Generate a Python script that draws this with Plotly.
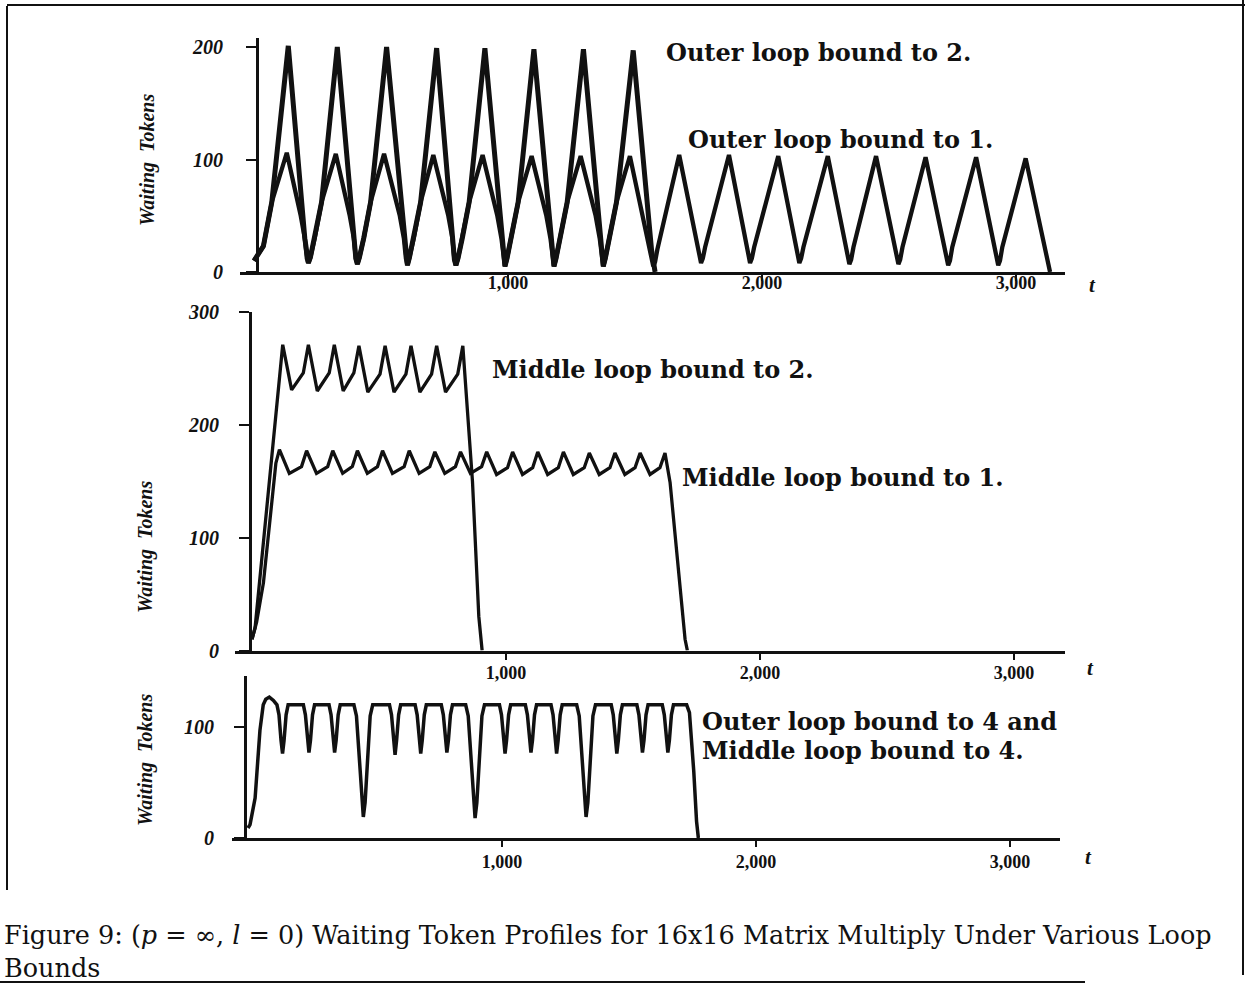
import plotly.graph_objects as go

# ---------------- data ----------------
# Top panel: Outer loop bound to 2
outer2_t = [0, 37, 70, 135,
            200, 208, 214, 222, 239, 266, 328,
            393, 401, 407, 415, 432, 459, 522,
            590, 598, 604, 612, 629, 656, 719,
            781, 789, 795, 803, 820, 847, 909,
            974, 982, 988, 996, 1013, 1040, 1102,
            1167, 1175, 1181, 1189, 1206, 1233, 1297,
            1361, 1369, 1375, 1383, 1400, 1427, 1493,
            1565, 1579]
outer2_w = [10, 23, 62, 201,
            30, 12, 8, 13, 30, 62, 200,
            30, 12, 7, 13, 30, 62, 200,
            30, 12, 6, 13, 30, 62, 199,
            30, 11, 6, 12, 30, 62, 199,
            30, 11, 5, 12, 30, 62, 198,
            30, 11, 5, 12, 30, 62, 198,
            30, 11, 5, 12, 30, 62, 197,
            20, 0]

# Top panel: Outer loop bound to 1
outer1_t = [0, 37, 70, 129,
            184, 200, 208, 214, 222, 239, 266, 322,
            377, 393, 401, 407, 415, 432, 459, 512,
            574, 590, 598, 604, 612, 629, 656, 706,
            765, 781, 789, 795, 803, 820, 847, 900,
            958, 974, 982, 988, 996, 1013, 1040, 1093,
            1151, 1167, 1175, 1181, 1189, 1206, 1233, 1286,
            1345, 1361, 1369, 1375, 1383, 1400, 1427, 1480,
            1558, 1565, 1572, 1579, 1588, 1674,
            1746, 1754, 1760, 1767, 1776, 1870,
            1939, 1947, 1953, 1960, 1969, 2064,
            2133, 2141, 2147, 2154, 2163, 2259,
            2330, 2338, 2344, 2351, 2360, 2449,
            2523, 2531, 2537, 2544, 2553, 2644,
            2719, 2727, 2733, 2740, 2749, 2843,
            2916, 2924, 2930, 2937, 2946, 3038,
            3134]
outer1_w = [10, 23, 62, 106,
            50, 30, 12, 8, 13, 30, 62, 105,
            50, 30, 12, 7, 13, 30, 62, 105,
            50, 30, 12, 6, 13, 30, 62, 104,
            50, 30, 11, 6, 12, 30, 62, 104,
            50, 30, 11, 5, 12, 30, 62, 103,
            50, 30, 11, 5, 12, 30, 62, 103,
            50, 30, 11, 5, 12, 30, 62, 103,
            20, 9, 5, 9, 20, 104,
            22, 12, 8, 12, 22, 104,
            22, 12, 8, 12, 22, 103,
            22, 12, 8, 12, 22, 103,
            22, 11, 7, 11, 22, 103,
            22, 11, 7, 11, 22, 102,
            22, 10, 6, 10, 22, 102,
            22, 10, 6, 10, 22, 101,
            0]

# Middle panel: Middle loop bound to 2
middle2_t = [0, 12, 121,
             156, 202, 222,
             257, 304, 324,
             359, 401, 421,
             456, 504, 524,
             559, 606, 626,
             661, 707, 727,
             762, 810, 830,
             868, 893, 906]
middle2_w = [10, 20, 271,
             231, 246, 271,
             230, 246, 271,
             230, 246, 270,
             229, 245, 270,
             229, 245, 270,
             229, 245, 270,
             229, 245, 270,
             150, 30, 0]

# Middle panel: Middle loop bound to 1
middle1_t = [0, 18, 45, 71, 94, 108,
             147, 195, 215,
             254, 298, 318,
             357, 395, 415,
             454, 494, 514,
             553, 599, 619,
             658, 700, 720,
             759, 801, 821,
             860, 904, 924,
             963, 1006, 1026,
             1065, 1105, 1125,
             1164, 1206, 1226,
             1265, 1308, 1328,
             1367, 1409, 1429,
             1468, 1508, 1528,
             1567, 1606, 1626,
             1646, 1685, 1705, 1714]
middle1_w = [10, 25, 60, 119, 166, 178,
             157, 163, 177,
             157, 163, 177,
             157, 163, 177,
             157, 163, 177,
             157, 163, 177,
             157, 163, 176,
             157, 163, 176,
             157, 163, 176,
             156, 162, 176,
             156, 162, 176,
             156, 162, 176,
             156, 162, 175,
             156, 162, 175,
             156, 162, 175,
             156, 162, 175,
             149, 54, 10, 0]

# Bottom panel: Outer loop bound to 4 and Middle loop bound to 4
both4_t = [0, 8, 28, 47, 60, 70, 84, 100, 114,
           122, 130, 136, 142, 150, 158,
           218, 226, 234, 240, 246, 254, 262,
           319, 327, 335, 341, 347, 355, 363,
           417, 427, 438, 447, 454, 461, 470, 481, 491,
           557, 565, 573, 579, 585, 593, 601,
           658, 666, 674, 680, 686, 694, 702,
           761, 769, 777, 783, 789, 797, 805,
           857, 867, 878, 887, 894, 901, 910, 921, 931,
           990, 998, 1006, 1012, 1018, 1026, 1034,
           1092, 1100, 1108, 1114, 1120, 1128, 1136,
           1193, 1201, 1209, 1215, 1221, 1229, 1237,
           1294, 1304, 1315, 1324, 1331, 1338, 1347, 1358, 1368,
           1430, 1438, 1446, 1452, 1458, 1466, 1474,
           1531, 1539, 1547, 1553, 1559, 1567, 1575,
           1631, 1639, 1647, 1653, 1659, 1667, 1675,
           1727, 1738, 1755, 1766, 1773]
both4_w = [9, 12, 36, 97, 120, 125, 127, 124, 120,
           111, 88, 76, 88, 111, 120,
           120, 111, 88, 77, 88, 111, 120,
           120, 111, 88, 77, 88, 111, 120,
           120, 110, 70, 32, 19, 32, 70, 110, 120,
           120, 111, 88, 75, 88, 111, 120,
           120, 111, 88, 76, 88, 111, 120,
           120, 111, 88, 77, 88, 111, 120,
           120, 110, 70, 32, 18, 32, 70, 110, 120,
           120, 111, 88, 76, 88, 111, 120,
           120, 111, 88, 77, 88, 111, 120,
           120, 111, 88, 76, 88, 111, 120,
           120, 110, 70, 32, 19, 32, 70, 110, 120,
           120, 111, 88, 76, 88, 111, 120,
           120, 111, 88, 77, 88, 111, 120,
           120, 111, 88, 77, 88, 111, 120,
           120, 113, 60, 15, 0]

x_tick_vals = [1000, 2000, 3000]
x_tick_text = ["1,000", "2,000", "3,000"]
top_y_ticks = [0, 100, 200]
mid_y_ticks = [0, 100, 200, 300]
bot_y_ticks = [0, 100]

caption = ("Figure 9: (<i>p</i> = ∞, <i>l</i> = 0) Waiting Token Profiles for 16x16 "
           "Matrix Multiply Under Various Loop<br>Bounds")

# ---------------- figure ----------------
W, H = 1253, 997
def px_x(p):
    return p / W
def px_y(p):
    return 1 - p / H

INK = "#111111"
SERIF = "Liberation Serif"

fig = go.Figure()
fig.add_trace(go.Scatter(x=outer2_t, y=outer2_w, mode="lines", xaxis="x", yaxis="y",
                         line=dict(color=INK, width=5.0), showlegend=False))
fig.add_trace(go.Scatter(x=outer1_t, y=outer1_w, mode="lines", xaxis="x", yaxis="y",
                         line=dict(color=INK, width=4.3), showlegend=False))
fig.add_trace(go.Scatter(x=middle2_t, y=middle2_w, mode="lines", xaxis="x2", yaxis="y2",
                         line=dict(color=INK, width=3.3), showlegend=False))
fig.add_trace(go.Scatter(x=middle1_t, y=middle1_w, mode="lines", xaxis="x2", yaxis="y2",
                         line=dict(color=INK, width=3.3), showlegend=False))
fig.add_trace(go.Scatter(x=both4_t, y=both4_w, mode="lines", xaxis="x3", yaxis="y3",
                         line=dict(color=INK, width=3.5), showlegend=False))

tickfont_y = dict(family=SERIF, size=20, color=INK, style="italic", weight="bold")
tickfont_x = dict(family=SERIF, size=18, color=INK, weight="bold")

def xaxis(L, R, zero, yname, standoff):
    scale = 0.254
    return dict(domain=[px_x(L), px_x(R)], range=[(L - zero) / scale, (R - zero) / scale],
                anchor=yname, showline=True, linecolor=INK, linewidth=3,
                showgrid=False, zeroline=False, ticks="outside", ticklen=6, tickwidth=2,
                tickcolor=INK, tickvals=x_tick_vals, ticktext=x_tick_text,
                tickfont=tickfont_x, ticklabelstandoff=standoff, fixedrange=True)

def yaxis(bottom, top, vmax, xpos, ticks, standoff):
    return dict(domain=[px_y(bottom), px_y(top)], range=[0, vmax], anchor="free",
                position=px_x(xpos), showline=True, linecolor=INK, linewidth=3,
                showgrid=False, zeroline=False, ticks="outside", ticklen=10, tickwidth=2,
                tickcolor=INK, tickvals=ticks, ticktext=[str(t) for t in ticks],
                tickfont=tickfont_y, ticklabelstandoff=standoff, fixedrange=True)

fig.update_layout(
    width=W, height=H, margin=dict(l=0, r=0, t=0, b=0, autoexpand=False),
    paper_bgcolor="white", plot_bgcolor="rgba(0,0,0,0)",
    xaxis=xaxis(240, 1065, 254, "y", -14),
    yaxis=yaxis(272, 38, 208, 257, top_y_ticks, 19),
    xaxis2=xaxis(235, 1065, 252, "y2", -2),
    yaxis2=yaxis(650.5, 312, 300, 250, mid_y_ticks, 16),
    xaxis3=xaxis(232, 1060, 248, "y3", -1),
    yaxis3=yaxis(838, 676, 146, 245, bot_y_ticks, 16),
)

ann = []
def note(text, x, y, size=24, xanchor="left", family="DejaVu Serif", bold=True, italic=False, angle=0):
    ann.append(dict(text=text, x=px_x(x), y=px_y(y), xref="paper", yref="paper",
                    xanchor=xanchor, yanchor="middle", showarrow=False, textangle=angle,
                    align="left",
                    font=dict(family=family, size=size, color=INK,
                              weight="bold" if bold else "normal",
                              style="italic" if italic else "normal")))

note("Outer loop bound to 2.", 664, 53)
note("Outer loop bound to 1.", 686, 140)
note("Middle loop bound to 2.", 490, 369)
note("Middle loop bound to 1.", 680, 477)
note("Outer loop bound to 4 and", 700, 721)
note("Middle loop bound to 4.", 700, 750)

note("Waiting  Tokens", 148, 160, size=20, xanchor="center", family=SERIF, italic=True, angle=-90)
note("Waiting  Tokens", 145, 547, size=20, xanchor="center", family=SERIF, italic=True, angle=-90)
note("Waiting  Tokens", 145, 760, size=20, xanchor="center", family=SERIF, italic=True, angle=-90)

note("t", 1092, 285, size=21, xanchor="center", family=SERIF, italic=True)
note("t", 1090, 668, size=21, xanchor="center", family=SERIF, italic=True)
note("t", 1088, 857, size=21, xanchor="center", family=SERIF, italic=True)

note(caption, 2, 951, size=25.5, family="DejaVu Serif", bold=False)

fig.update_layout(annotations=ann)

# page frame of the scanned figure
frame = [
    (7, 6, 7, 890), (7, 5, 1245, 5), (1243, 0, 1243, 975), (0, 982, 1085, 982),
]
fig.update_layout(shapes=[dict(type="line", xref="paper", yref="paper",
                               x0=px_x(a), y0=px_y(b), x1=px_x(c), y1=px_y(d),
                               line=dict(color=INK, width=2)) for a, b, c, d in frame])

fig.write_html("out.html", config={"displayModeBar": False},
               post_script="document.body.style.margin='0';document.body.style.overflow='hidden';")
